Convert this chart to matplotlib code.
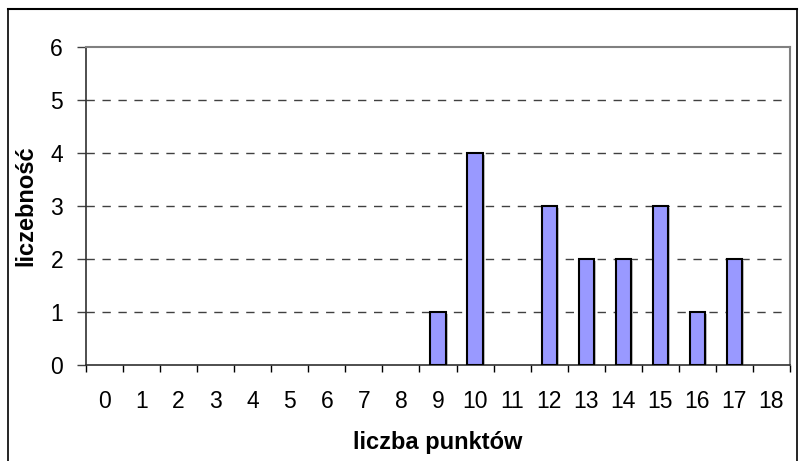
import matplotlib
matplotlib.use("Agg")
import matplotlib.pyplot as plt
from matplotlib.lines import Line2D

categories = list(range(19))
values = [0, 0, 0, 0, 0, 0, 0, 0, 0, 1, 4, 0, 3, 2, 2, 3, 1, 2, 0]
yticks = [0, 1, 2, 3, 4, 5, 6]

plt.rcParams['font.family'] = ['Liberation Sans', 'DejaVu Sans']

fig = plt.figure(figsize=(8, 4.61), dpi=100)
ax = fig.add_axes([86/800, 1-365/461, (790-86)/800, (365-47)/461])

# outer chart border
fig.add_artist(Line2D([8/800, 797/800], [1-9/461, 1-9/461], transform=fig.transFigure, color='black', lw=1.5))
fig.add_artist(Line2D([8/800, 8/800], [1-9/461, 0], transform=fig.transFigure, color='black', lw=1.2))
fig.add_artist(Line2D([797/800, 797/800], [1-9/461, 0], transform=fig.transFigure, color='black', lw=1.2))

bx = [c for c, v in zip(categories, values) if v > 0]
bv = [v for v in values if v > 0]
# shadows
ax.bar([c + 0.06 for c in bx], bv, width=0.41, bottom=-0.04, color='#c0c0c0', edgecolor='none', zorder=2)
ax.bar(bx, bv, width=0.41, color='#9999ff', edgecolor='black', linewidth=1.5, zorder=3)

ax.set_xlim(-0.5, 18.5)
ax.set_ylim(0, 6)
ax.set_yticks(yticks)
ax.set_yticklabels([str(v) for v in yticks], fontsize=16.5)
ax.set_xticks([c - 0.5 for c in categories] + [18.5])
ax.set_xticklabels([])
ax.set_xticks(categories, minor=True)
ax.set_xticklabels([str(c) for c in categories], minor=True, fontsize=16.5)
ax.tick_params(axis='x', which='minor', length=0, pad=18)
ax.tick_params(axis='x', which='major', length=5, width=1, direction='out', color='black')
ax.tick_params(axis='y', length=6.5, width=1, direction='out', pad=10, color='#404040')

for y in yticks[1:-1]:
    ax.axhline(y, color='#404040', lw=1, ls=(0, (6, 5.5)), zorder=1)

ax.spines['top'].set_color('#808080')
ax.spines['right'].set_color('#808080')
ax.spines['top'].set_linewidth(1.5)
ax.spines['right'].set_linewidth(1.5)
ax.spines['left'].set_color('#303030')
ax.spines['bottom'].set_color('#303030')
ax.spines['left'].set_linewidth(1.2)
ax.spines['bottom'].set_linewidth(1.2)

ax.set_ylabel('liczebność', fontsize=17, fontweight='bold', labelpad=9)
ax.set_xlabel('liczba punktów', fontsize=17, fontweight='bold', labelpad=13)

fig.savefig('out.png', dpi=100)
